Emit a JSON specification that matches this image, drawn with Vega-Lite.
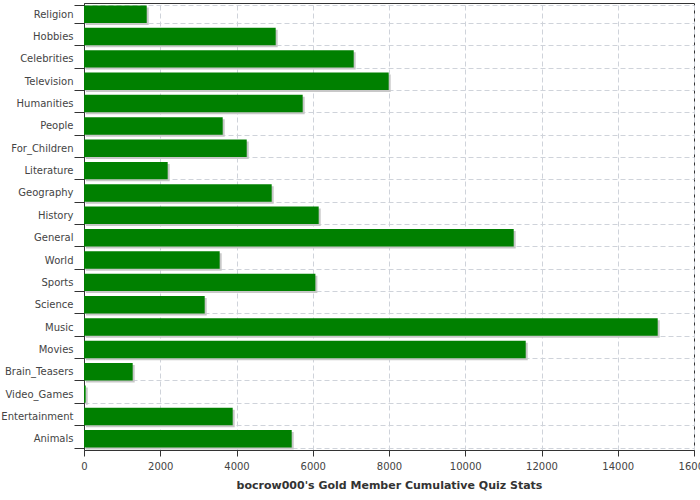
{
  "$schema": "https://vega.github.io/schema/vega-lite/v6.json",
  "autosize": "none",
  "width": 610,
  "height": 447,
  "padding": {"left": 84, "top": 3, "right": 6, "bottom": 50},
  "background": "white",
  "config": {
    "view": {"stroke": "#333333", "strokeWidth": 1},
    "font": "DejaVu Sans",
    "axis": {
      "domainColor": "#333333",
      "tickColor": "#333333",
      "labelColor": "#444444",
      "labelFont": "DejaVu Sans",
      "labelFontSize": 10,
      "gridColor": "#cfd3da",
      "gridDash": [5, 3],
      "gridWidth": 1
    }
  },
  "data": {
    "values": [
      {"category": "Religion", "value": 1645},
      {"category": "Hobbies", "value": 5028},
      {"category": "Celebrities", "value": 7074},
      {"category": "Television", "value": 7992},
      {"category": "Humanities", "value": 5736},
      {"category": "People", "value": 3638},
      {"category": "For_Children", "value": 4268},
      {"category": "Literature", "value": 2195},
      {"category": "Geography", "value": 4923},
      {"category": "History", "value": 6156},
      {"category": "General", "value": 11271},
      {"category": "World", "value": 3559},
      {"category": "Sports", "value": 6069},
      {"category": "Science", "value": 3166},
      {"category": "Music", "value": 15048},
      {"category": "Movies", "value": 11586},
      {"category": "Brain_Teasers", "value": 1277},
      {"category": "Video_Games", "value": 45},
      {"category": "Entertainment", "value": 3900},
      {"category": "Animals", "value": 5448}
    ]
  },
  "encoding": {
    "y": {
      "field": "category",
      "type": "nominal",
      "sort": null,
      "scale": {"paddingInner": 0.22, "paddingOuter": 0.11},
      "axis": {
        "title": null,
        "tickBand": "extent",
        "tickSize": 10,
        "labelPadding": 1,
        "grid": true,
        "domainColor": "#333333"
      }
    },
    "x": {
      "field": "value",
      "type": "quantitative",
      "scale": {"domain": [0, 16000], "nice": false},
      "axis": {
        "title": "bocrow000's Gold Member Cumulative Quiz Stats",
        "titleFont": "DejaVu Sans",
        "titleFontSize": 11,
        "titleFontWeight": "bold",
        "titleColor": "#333333",
        "titlePadding": 8,
        "values": [0, 2000, 4000, 6000, 8000, 10000, 12000, 14000, 16000],
        "tickSize": 6,
        "labelPadding": 5,
        "grid": true,
        "format": "d",
        "labelFlush": false,
        "labelOverlap": false
      }
    }
  },
  "layer": [
    {
      "mark": {"type": "bar", "color": "#c8c8c8", "xOffset": 2, "x2Offset": 2, "yOffset": 2, "y2Offset": 2}
    },
    {
      "mark": {"type": "bar", "color": "#008000"}
    }
  ]
}
